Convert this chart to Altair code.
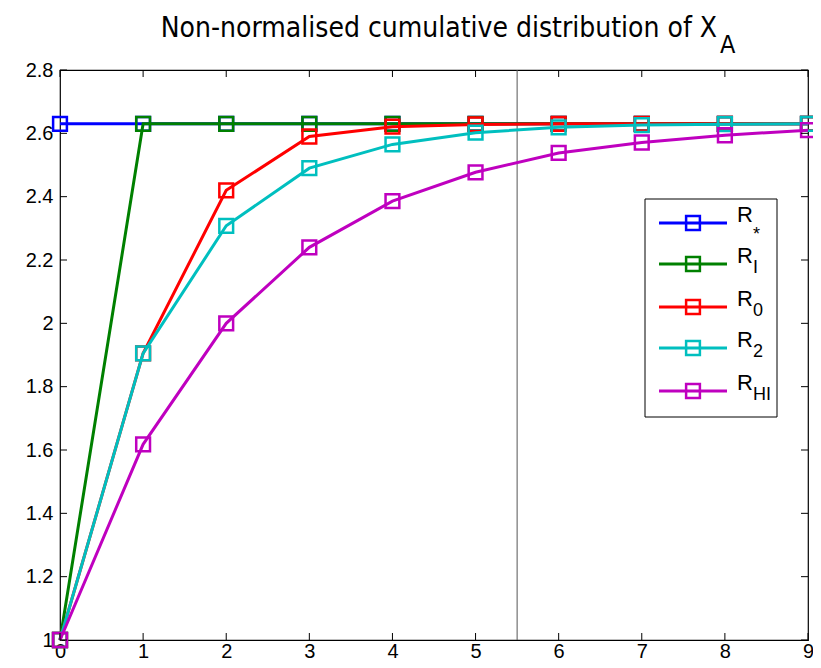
import altair as alt
import pandas as pd

# ---- data ----
x_vals = [0, 1, 2, 3, 4, 5, 6, 7, 8, 9]
r_star = [2.63, 2.63, 2.63, 2.63, 2.63, 2.63, 2.63, 2.63, 2.63, 2.63]
r_i = [1.0, 2.63, 2.63, 2.63, 2.63, 2.63, 2.63, 2.63, 2.63, 2.63]
r_0 = [1.0, 1.905, 2.42, 2.59, 2.621, 2.628, 2.63, 2.63, 2.63, 2.63]
r_2 = [1.0, 1.905, 2.308, 2.49, 2.565, 2.602, 2.619, 2.626, 2.629, 2.63]
r_hi = [1.0, 1.618, 2.0, 2.24, 2.386, 2.477, 2.538, 2.571, 2.594, 2.61]

series_names = ["R*", "RI", "R0", "R2", "RHI"]
series_values = [r_star, r_i, r_0, r_2, r_hi]
series_colors = ["#0000FF", "#008000", "#FF0000", "#00BFBF", "#BF00BF"]
legend_main = ["R", "R", "R", "R", "R"]
legend_sub = ["*", "I", "0", "2", "HI"]

x_ticks = [0, 1, 2, 3, 4, 5, 6, 7, 8, 9]
y_ticks = [1.0, 1.2, 1.4, 1.6, 1.8, 2.0, 2.2, 2.4, 2.6, 2.8]
vline_x = [5.5]

title_main = "Non-normalised cumulative distribution of X"
title_sub = "A"

W, H = 748, 570
TOP = 62
TITLE_FONT = "Liberation Sans Narrow, Arial Narrow, DejaVu Sans Condensed, sans-serif"
FONT = "Liberation Sans"

xs = alt.Scale(domain=[0, 9], nice=False)
ys = alt.Scale(domain=[1, 2.8], nice=False, zero=False)

x_axis = alt.Axis(values=x_ticks, format="d", grid=False, ticks=False, domain=False,
                  labelFont=FONT, labelFontSize=20, labelColor="black", labelPadding=17,
                  labelBaseline="alphabetic", title=None, labelFlush=False)
y_axis = alt.Axis(values=y_ticks, format=".1~f", grid=False, ticks=False, domain=False,
                  labelFont=FONT, labelFontSize=20, labelColor="black", labelPadding=7,
                  title=None)

dummy = pd.DataFrame({"a": [0]})
layers = []

# vertical line
layers.append(
    alt.Chart(pd.DataFrame({"x": vline_x})).mark_rule(color="#555555", strokeWidth=1).encode(
        x=alt.X("x:Q", scale=xs, axis=x_axis)
    )
)

# series
for name, vals, col in zip(series_names, series_values, series_colors):
    df = pd.DataFrame({"x": x_vals, "y": vals, "s": name})
    base = alt.Chart(df).encode(
        x=alt.X("x:Q", scale=xs, axis=x_axis),
        y=alt.Y("y:Q", scale=ys, axis=y_axis),
    )
    layers.append(base.mark_line(color=col, strokeWidth=3))
    layers.append(base.mark_point(shape="square", filled=False, color=col, size=190,
                                  strokeWidth=2.5, opacity=1))

# inward ticks on all four sides
xt = pd.DataFrame({"x": x_ticks})
yt = pd.DataFrame({"y": y_ticks})
tick_len = 7
layers.append(alt.Chart(xt).mark_rule(color="black", strokeWidth=1).encode(
    x=alt.X("x:Q", scale=xs, axis=x_axis), y=alt.value(H), y2=alt.value(H - tick_len)))
layers.append(alt.Chart(xt).mark_rule(color="black", strokeWidth=1).encode(
    x=alt.X("x:Q", scale=xs, axis=x_axis), y=alt.value(0), y2=alt.value(tick_len)))
layers.append(alt.Chart(yt).mark_rule(color="black", strokeWidth=1).encode(
    y=alt.Y("y:Q", scale=ys, axis=y_axis), x=alt.value(0), x2=alt.value(tick_len)))
layers.append(alt.Chart(yt).mark_rule(color="black", strokeWidth=1).encode(
    y=alt.Y("y:Q", scale=ys, axis=y_axis), x=alt.value(W - tick_len), x2=alt.value(W)))

# legend box (pixel offsets relative to plot top-left)
oy = 72 - 8 - TOP  # keep legend at the same page position as the reference
layers.append(alt.Chart(dummy).mark_rect(fill="white", stroke="black", strokeWidth=1).encode(
    x=alt.value(585), x2=alt.value(717), y=alt.value(127 + oy), y2=alt.value(345 + oy)))

row_y = [151, 192, 235, 276, 319]
for ry, main, sub, col in zip(row_y, legend_main, legend_sub, series_colors):
    ry = ry + oy
    layers.append(alt.Chart(dummy).mark_rule(color=col, strokeWidth=3).encode(
        x=alt.value(599), x2=alt.value(667), y=alt.value(ry)))
    layers.append(alt.Chart(dummy).mark_point(shape="square", filled=False, color=col, size=190,
                                              strokeWidth=2.5, opacity=1).encode(
        x=alt.value(633), y=alt.value(ry)))
    layers.append(alt.Chart(dummy).mark_text(text=main, font=FONT, fontSize=22, align="left",
                                             baseline="alphabetic", color="black").encode(
        x=alt.value(677), y=alt.value(ry - 1)))
    layers.append(alt.Chart(dummy).mark_text(text=sub, font=FONT, fontSize=18, align="left",
                                             baseline="alphabetic", color="black").encode(
        x=alt.value(693), y=alt.value(ry + (17 if sub == "*" else 9))))

# title with subscript
layers.append(alt.Chart(dummy).mark_text(text=title_main, font=TITLE_FONT, fontSize=28,
                                         align="right", baseline="alphabetic", color="black").encode(
    x=alt.value(657), y=alt.value(-35 + oy)))
layers.append(alt.Chart(dummy).mark_text(text=title_sub, font=TITLE_FONT, fontSize=25,
                                         align="left", baseline="alphabetic", color="black").encode(
    x=alt.value(660), y=alt.value(-19 + oy)))

chart = alt.layer(*layers).properties(
    width=W, height=H,
    autosize=alt.AutoSizeParams(type="none"),
    padding={"left": 52, "top": TOP, "right": 5, "bottom": 652 - TOP - H},
    background="white",
).configure_view(stroke="black", strokeWidth=1.2)

chart.save("out.html", embed_options={"renderer": "svg", "actions": False})
